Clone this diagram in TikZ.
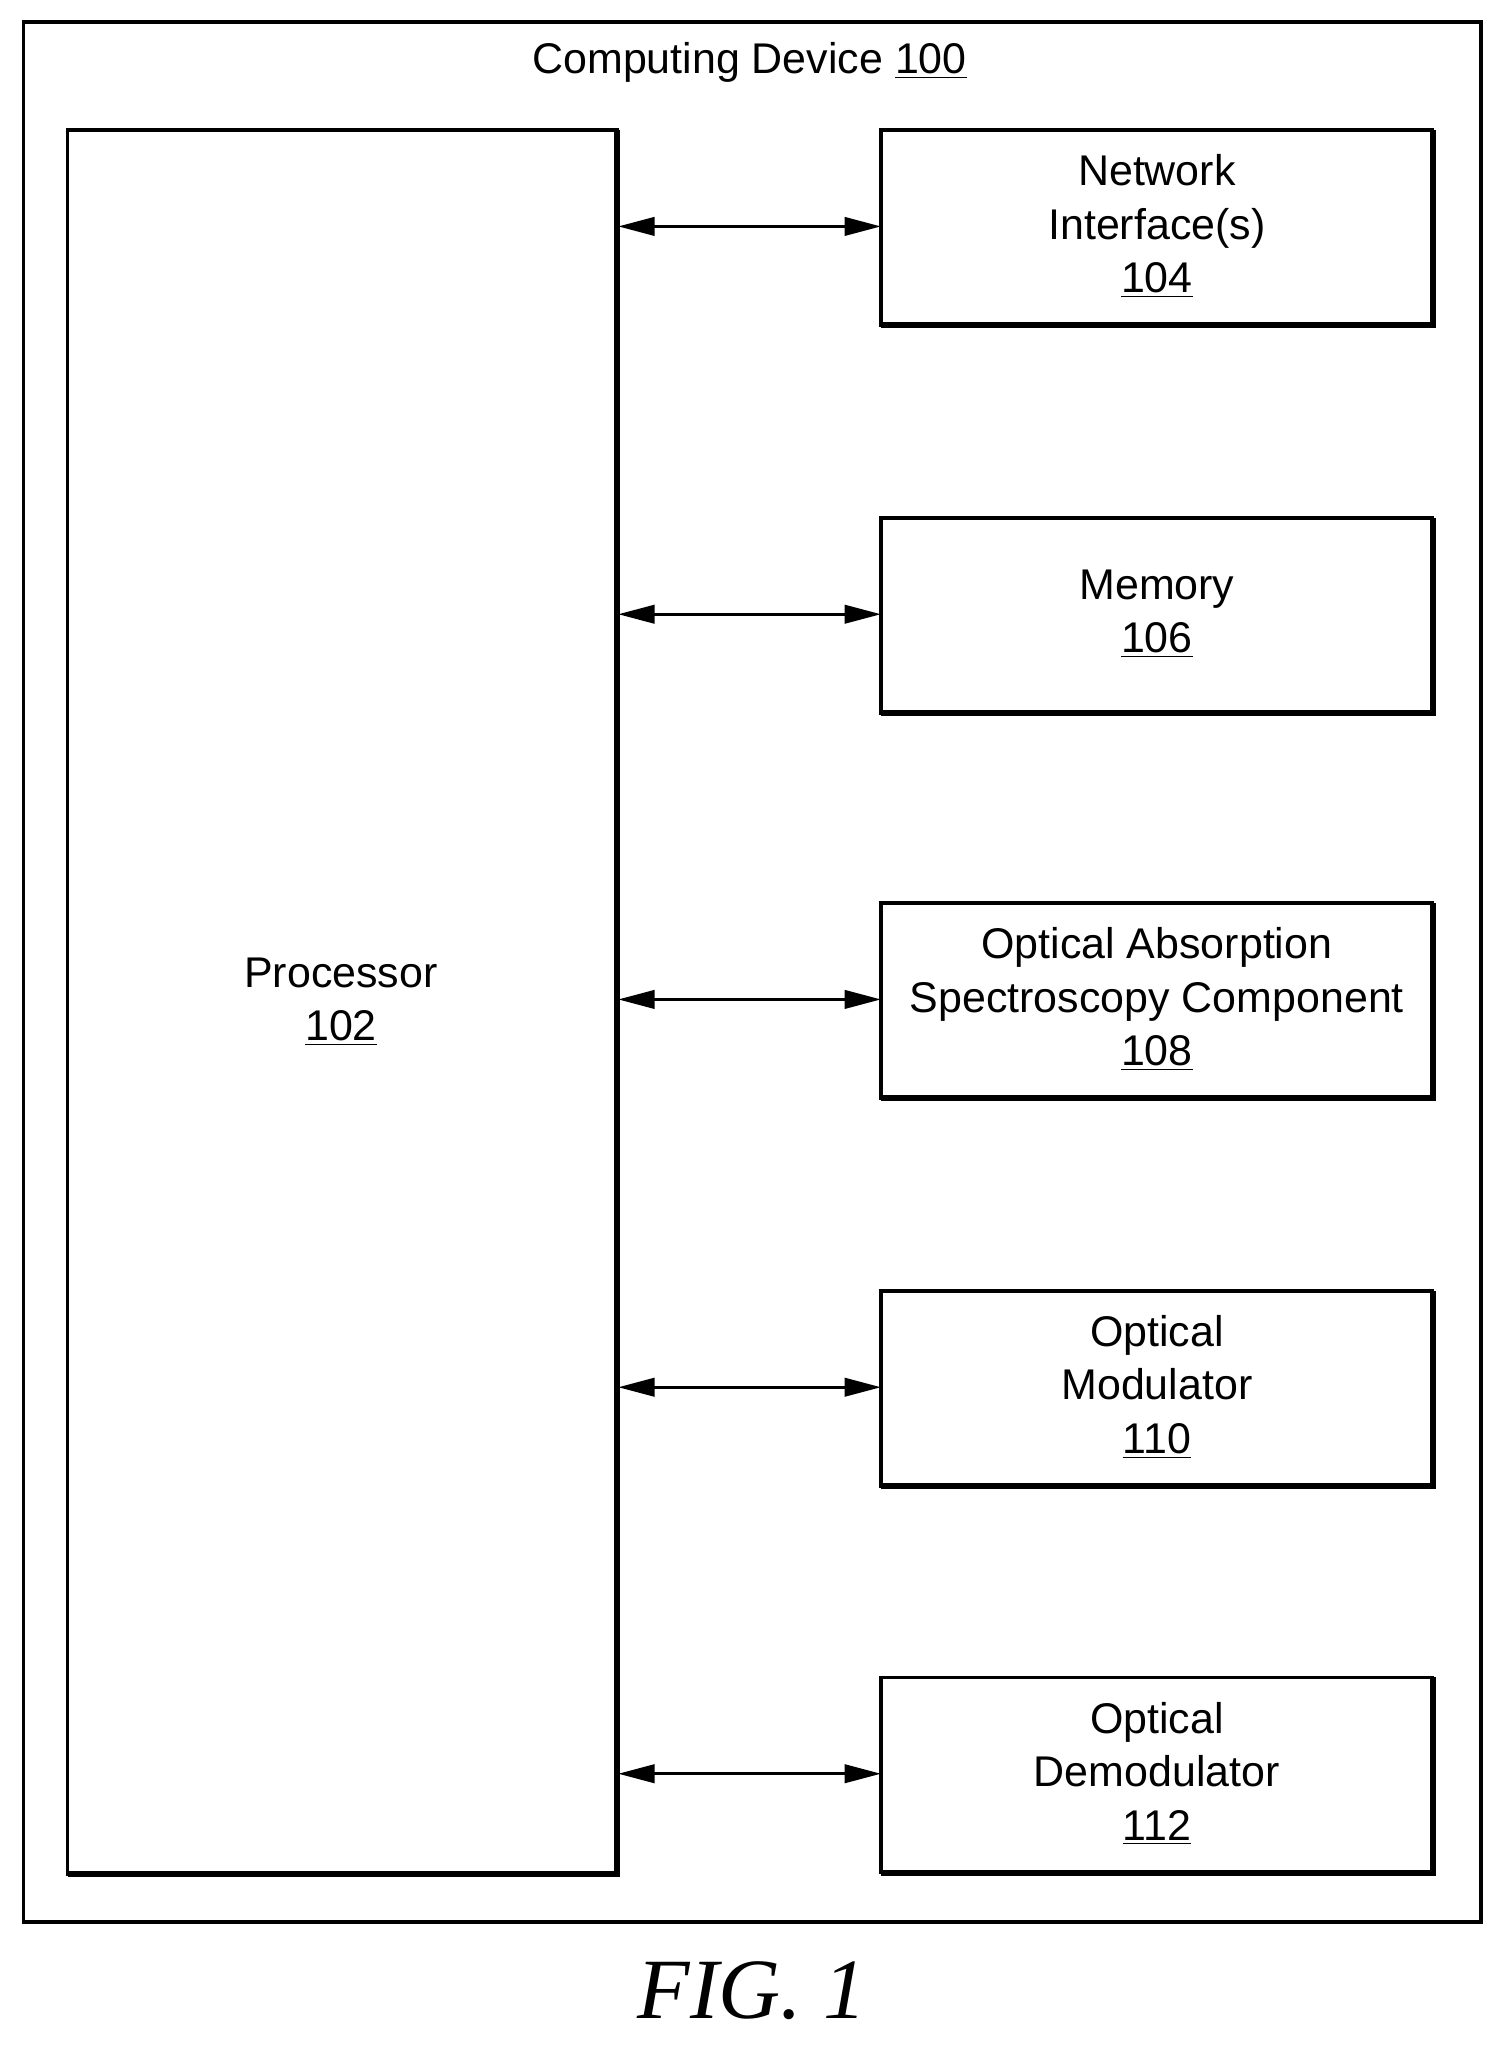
\documentclass[tikz,border=0pt]{standalone}
\usepackage{fontspec}
\setmainfont{Liberation Sans}
\newfontfamily\figfont{Liberation Serif}
\usetikzlibrary{arrows.meta}
\begin{document}
\begin{tikzpicture}[x=0.5pt,y=-0.5pt,
  box/.style={draw,line width=1.3pt},
  lbl/.style={align=center,font=\fontsize{16.5}{20.5}\selectfont,inner sep=0},
  conn/.style={line width=1.3pt,{Triangle[length=14pt,width=7pt]}-{Triangle[length=14pt,width=7pt]}}]
\useasboundingbox (0,0) rectangle (1159,1573);
\draw[box] (18,17) rectangle (1138,1477);
\node[lbl] (title) at (576,48) {Computing Device \underline{100}};
% processor
\draw[box] (52,100) rectangle (474,1440);
\draw[line width=2.2pt] (474,100) -- (474,1440) -- (52,1440);
\coordinate (proc) at (52,100);
\node[lbl] (ptext) at (262,770) {Processor\\\underline{102}};
\foreach \n/\y/\t in {net/100/{Network\\Interface(s)\\\underline{104}},
                      mem/398/{Memory\\\underline{106}},
                      oas/694/{Optical Absorption\\Spectroscopy Component\\\underline{108}},
                      mod/992/{Optical\\Modulator\\\underline{110}},
                      dem/1289/{Optical\\Demodulator\\\underline{112}}}{
  \draw[box] (677,\y) rectangle (1101,\y+150);
  \draw[line width=2.2pt] (1101,\y) -- (1101,\y+150) -- (677,\y+150);
  \coordinate (\n L) at (677,\y+74);
  \coordinate (\n P) at (475,\y+74);
  \node[lbl] (\n) at (889,\y+74) {\t};
  \draw[conn] (\n P) -- (\n L);
}
\node[font=\figfont\itshape\fontsize{33}{36}\selectfont,inner sep=0] (fig) at (578,1530) {FIG. 1};
\end{tikzpicture}
\end{document}
